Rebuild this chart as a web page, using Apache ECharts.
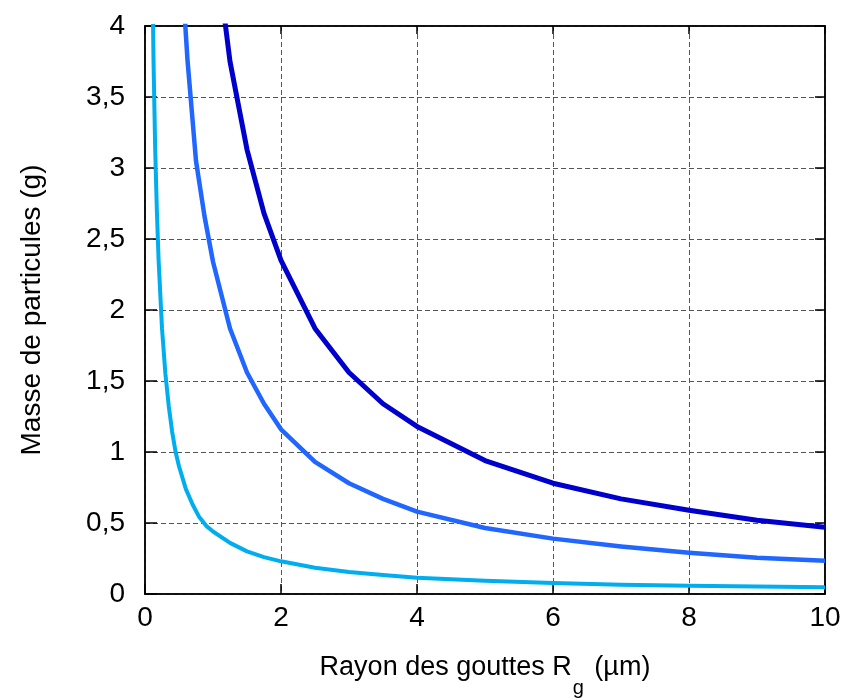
<!DOCTYPE html>
<html>
<head>
<meta charset="utf-8">
<script src="https://cdn.jsdelivr.net/npm/echarts@6/dist/echarts.min.js"></script>
<style>
html, body { margin: 0; padding: 0; background: #fff; }
#chart { width: 844px; height: 700px; }
</style>
</head>
<body>
<div id="chart"></div>
<script>
// Data
const radiusDark = [1, 1.25, 1.5, 1.75, 2, 2.5, 3, 3.5, 4, 5, 6, 7, 8, 9, 10];
const massDark = [4.7, 3.75, 3.13, 2.68, 2.35, 1.87, 1.56, 1.34, 1.18, 0.94, 0.78, 0.67, 0.59, 0.52, 0.47];

const radiusMedium = [0.5, 0.625, 0.75, 0.875, 1, 1.25, 1.5, 1.75, 2, 2.5, 3, 3.5, 4, 5, 6, 7, 8, 9, 10];
const massMedium = [4.7, 3.76, 3.05, 2.66, 2.34, 1.87, 1.56, 1.34, 1.16, 0.93, 0.78, 0.67, 0.58, 0.465, 0.39, 0.335, 0.29, 0.255, 0.235];

const radiusLight = [0.1, 0.125, 0.15, 0.175, 0.2, 0.25, 0.3, 0.35, 0.4, 0.45, 0.5, 0.6, 0.7, 0.8, 0.9, 1, 1.25, 1.5, 1.75, 2, 2.5, 3, 3.5, 4, 5, 6, 7, 8, 9, 10];
const massLight = [4.7, 3.76, 3.13, 2.69, 2.35, 1.87, 1.55, 1.32, 1.14, 1.0, 0.9, 0.74, 0.63, 0.54, 0.48, 0.44, 0.36, 0.30, 0.26, 0.23, 0.185, 0.155, 0.133, 0.115, 0.093, 0.077, 0.066, 0.058, 0.052, 0.048];

const xTickLabels = ['0', '2', '4', '6', '8', '10'];
const yTickLabels = ['0', '0,5', '1', '1,5', '2', '2,5', '3', '3,5', '4'];

const xTitleMain = 'Rayon des gouttes R';
const xTitleSub = 'g';
const xTitleUnit = ' (µm)';
const yTitle = 'Masse de particules (g)';

const FONT = '"Liberation Sans", Arial, sans-serif';

function pairs(xs, ys) { return xs.map((x, i) => [x, ys[i]]); }

const chart = echarts.init(document.getElementById('chart'), null, { renderer: 'canvas' });

const gridLine = { show: true, lineStyle: { color: '#555', width: 1, type: [5, 3] } };

chart.setOption({
  animation: false,
  backgroundColor: '#fff',
  grid: { left: 145, right: 19, top: 26, bottom: 106, outerBoundsMode: 'none', containLabel: false,
    show: true, borderColor: '#000', borderWidth: 1.5, backgroundColor: 'transparent' },
  xAxis: [
    {
      type: 'value', min: 0, max: 10, interval: 2, position: 'bottom',
      axisLine: { show: true, onZero: false, lineStyle: { color: '#000', width: 1.5 } },
      axisTick: { show: true, inside: true, length: 10, lineStyle: { color: '#000', width: 1.5 } },
      splitLine: gridLine,
      axisLabel: { margin: 10, fontSize: 28, color: '#000', fontFamily: FONT,
        formatter: (v, i) => xTickLabels[i] },
      name: '{m|' + xTitleMain + '}{s|' + xTitleSub + '}{m|' + xTitleUnit + '}',
      nameLocation: 'middle', nameGap: 60,
      nameTextStyle: {
        color: '#000', fontFamily: FONT,
        rich: {
          m: { fontSize: 27, lineHeight: 30, verticalAlign: 'top', color: '#000', fontFamily: FONT },
          s: { fontSize: 20, lineHeight: 44, verticalAlign: 'bottom', color: '#000', fontFamily: FONT, padding: [0, 3, 0, 1] }
        }
      }
    },
    {
      type: 'value', min: 0, max: 10, interval: 2, position: 'top',
      axisLine: { show: true, onZero: false, lineStyle: { color: '#000', width: 1.5 } },
      axisTick: { show: true, inside: true, length: 8, lineStyle: { color: '#000', width: 1.5 } },
      axisLabel: { show: false }, splitLine: { show: false }
    }
  ],
  yAxis: [
    {
      type: 'value', min: 0, max: 4, interval: 0.5, position: 'left',
      axisLine: { show: true, onZero: false, lineStyle: { color: '#000', width: 1.5 } },
      axisTick: { show: true, inside: true, length: 12, lineStyle: { color: '#000', width: 1.5 } },
      splitLine: gridLine,
      axisLabel: { margin: 20, fontSize: 28, color: '#000', fontFamily: FONT,
        formatter: (v, i) => yTickLabels[i] },
      name: yTitle, nameLocation: 'middle', nameGap: 99,
      nameTextStyle: { fontSize: 28, color: '#000', fontFamily: FONT }
    },
    {
      type: 'value', min: 0, max: 4, interval: 0.5, position: 'right',
      axisLine: { show: true, onZero: false, lineStyle: { color: '#000', width: 1.5 } },
      axisTick: { show: true, inside: true, length: 10, lineStyle: { color: '#000', width: 1.5 } },
      axisLabel: { show: false }, splitLine: { show: false }
    }
  ],
  series: [
    { type: 'line', name: 'light', data: pairs(radiusLight, massLight), showSymbol: false, symbol: 'none', clip: true,
      lineStyle: { color: '#00AEEF', width: 4, join: 'round' }, z: 3 },
    { type: 'line', name: 'medium', data: pairs(radiusMedium, massMedium), showSymbol: false, symbol: 'none', clip: true,
      lineStyle: { color: '#2166FF', width: 4.5, join: 'round' }, z: 4 },
    { type: 'line', name: 'dark', data: pairs(radiusDark, massDark), showSymbol: false, symbol: 'none', clip: true,
      lineStyle: { color: '#0000CD', width: 5, join: 'round' }, z: 5 }
  ]
});
</script>
</body>
</html>
